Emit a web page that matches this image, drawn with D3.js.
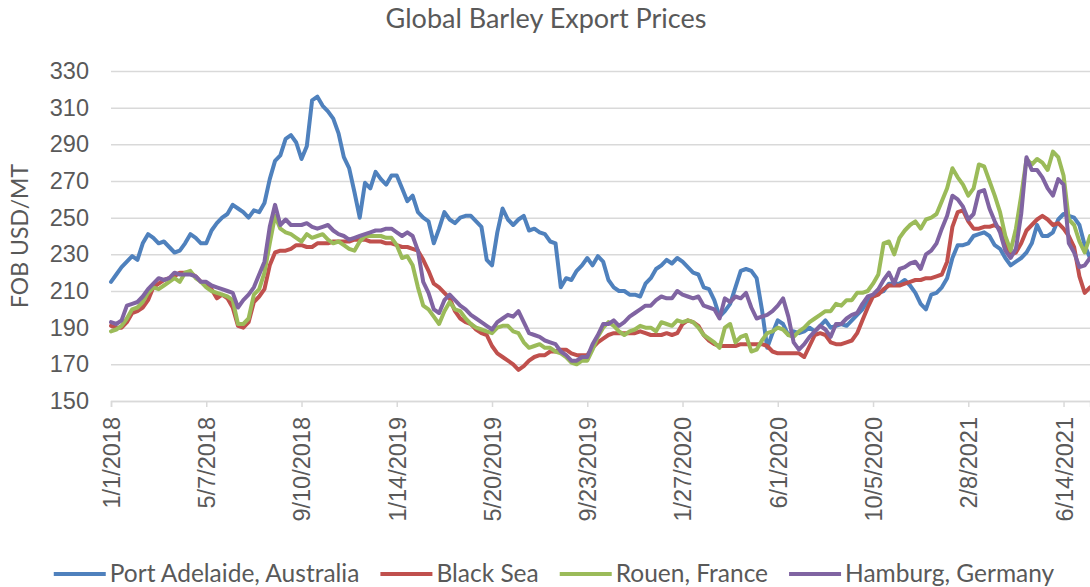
<!DOCTYPE html>
<html>
<head>
<meta charset="utf-8">
<script src="https://cdn.jsdelivr.net/npm/d3@7"></script>
<style>
  body { margin: 0; background: #fff; }
  svg { display: block; font-family: Lato, "Open Sans", sans-serif; }
</style>
</head>
<body>
<script>
// weekly prices, starting Monday 1/1/2018
const startDate = "1/1/2018";

const seriesNames = ["Port Adelaide, Australia", "Black Sea", "Rouen, France", "Hamburg, Germany"];
const seriesColors = ["#4f81bd", "#c0504d", "#9bbb59", "#8064a2"];

const portAdelaide = [
  215, 219, 223, 226, 229, 227, 236, 241, 239, 236,
  237, 234, 231, 232, 236, 241, 239, 236, 236, 243,
  247, 250, 252, 257, 255, 253, 250, 254, 253, 258,
  271, 281, 284, 293, 295, 291, 282, 289, 314, 316,
  311, 308, 304, 296, 283, 277, 264, 250, 269, 266,
  275, 271, 268, 273, 273, 266, 259, 262, 253, 250,
  248, 236, 244, 253, 249, 247, 250, 251, 251, 248,
  245, 227, 224, 242, 255, 249, 246, 249, 251, 243,
  244, 242, 241, 237, 236, 212, 217, 216, 221, 224,
  228, 224, 229, 226, 216, 212, 210, 210, 208, 208,
  207, 214, 217, 222, 224, 227, 225, 228, 226, 223,
  220, 219, 212, 211, 205, 196, 199, 203, 212, 221,
  222, 221, 217, 200, 179, 187, 194, 192, 186, 188,
  187, 188, 190, 188, 191, 194, 190, 191, 192, 191,
  194, 197, 200, 205, 207, 209, 210, 214, 214, 214,
  216, 213, 209, 203, 200, 208, 209, 212, 217, 228,
  235, 235, 236, 240, 241, 242, 240, 235, 233, 228,
  224, 226, 228, 231, 236, 246, 240, 240, 242, 249,
  252, 251, 250, 246, 235, 228
];

const blackSea = [
  191, 190, 190, 193, 198, 199, 201, 205, 212, 214,
  216, 217, 218, 220, 220, 220, 218, 215, 214, 211,
  206, 208, 206, 201, 191, 190, 193, 204, 207, 211,
  224, 231, 232, 232, 233, 235, 235, 234, 234, 236,
  236, 236, 237, 237, 237, 237, 238, 238, 238, 237,
  237, 237, 236, 236, 235, 234, 234, 233, 232, 227,
  221, 214, 212, 209, 206, 199, 195, 193, 192, 189,
  187, 186, 180, 176, 174, 172, 170, 167, 169, 172,
  174, 175, 175, 177, 177, 178, 178, 176, 175, 175,
  175, 179, 182, 184, 186, 187, 187, 187, 187, 187,
  188, 187, 186, 186, 186, 187, 186, 187, 192, 194,
  193, 191, 186, 183, 181, 180, 180, 180, 180, 181,
  181, 181, 181, 181, 180, 177, 176, 176, 176, 176,
  176, 174, 180, 186, 187, 186, 182, 181, 181, 182,
  183, 187, 194, 201, 207, 208, 211, 213, 213, 213,
  214, 215, 216, 216, 217, 217, 218, 219, 226, 245,
  253, 254, 248, 244, 244, 245, 245, 246, 244, 235,
  230, 231, 236, 243, 246, 249, 251, 249, 246, 247,
  244, 240, 234, 218, 209, 212
];

const rouen = [
  188, 189, 191, 195, 200, 201, 204, 209, 212, 211,
  213, 215, 217, 215, 220, 221, 217, 215, 212, 210,
  209, 208, 207, 205, 192, 192, 195, 208, 211, 220,
  236, 251, 244, 242, 241, 239, 237, 241, 239, 240,
  241, 238, 236, 237, 235, 233, 232, 237, 240, 240,
  240, 240, 239, 239, 235, 228, 229, 224, 212, 202,
  200, 196, 192, 199, 204, 200, 199, 195, 192, 190,
  189, 188, 187, 190, 191, 191, 188, 187, 182, 179,
  180, 181, 179, 179, 177, 176, 174, 171, 170, 172,
  172, 178, 185, 190, 193, 191, 188, 186, 188, 189,
  191, 190, 190, 188, 193, 192, 191, 194, 193, 194,
  193, 190, 186, 184, 182, 179, 190, 192, 182, 185,
  186, 177, 178, 183, 187, 188, 190, 189, 186, 185,
  188, 190, 193, 195, 197, 199, 199, 203, 202, 205,
  205, 209, 209, 210, 214, 219, 236, 237, 230, 239,
  243, 246, 248, 244, 249, 250, 252, 259, 266, 277,
  272, 268, 262, 266, 279, 278, 270, 262, 253, 240,
  232, 244, 262, 282, 279, 282, 280, 276, 286, 283,
  273, 249, 246, 237, 231, 240
];

const hamburg = [
  193, 192, 194, 202, 203, 204, 207, 211, 214, 217,
  216, 217, 220, 219, 219, 219, 218, 215, 215, 213,
  212, 211, 210, 209, 201, 205, 208, 212, 219, 226,
  245, 257, 246, 249, 246, 246, 246, 247, 245, 244,
  245, 246, 243, 241, 240, 238, 239, 240, 241, 242,
  243, 243, 244, 244, 242, 240, 242, 240, 232, 215,
  209, 200, 198, 205, 208, 205, 202, 200, 197, 195,
  193, 191, 189, 193, 195, 197, 196, 199, 193, 187,
  186, 185, 183, 182, 181, 177, 175, 172, 172, 174,
  174, 181, 186, 192, 192, 194, 191, 193, 196, 198,
  200, 202, 202, 205, 207, 206, 206, 210, 208, 207,
  206, 207, 202, 201, 200, 195, 206, 204, 207, 206,
  209, 201, 195, 196, 197, 199, 202, 206, 196, 182,
  178, 181, 185, 188, 191, 189, 185, 192, 192, 195,
  197, 198, 203, 207, 208, 211, 216, 220, 214, 222,
  223, 225, 226, 222, 230, 232, 236, 244, 251, 262,
  260, 256, 249, 252, 264, 265, 255, 248, 242, 232,
  228, 233, 252, 283, 276, 276, 272, 266, 262, 271,
  268, 236, 231, 223, 224, 228
];

const xTickLabels = ["1/1/2018", "5/7/2018", "9/10/2018", "1/14/2019", "5/20/2019", "9/23/2019",
  "1/27/2020", "6/1/2020", "10/5/2020", "2/8/2021", "6/14/2021"];
const yTicks = [150, 170, 190, 210, 230, 250, 270, 290, 310, 330];

const width = 1090, height = 587;
const plotLeft = 111, plotRight = 1090, plotTop = 71, plotBottom = 401;
const textColor = "#595959", gridColor = "#d9d9d9";

const parse = d3.timeParse("%m/%d/%Y");
const fmt = d3.timeFormat("%-m/%-d/%Y");
const t0 = parse(startDate);
const weekDate = i => d3.timeDay.offset(t0, i * 7);

const allSeries = [portAdelaide, blackSea, rouen, hamburg].map((vals, k) => ({
  name: seriesNames[k],
  color: seriesColors[k],
  values: vals.map((v, i) => ({ date: weekDate(i), value: v }))
}));

const x = d3.scaleTime()
  .domain([t0, weekDate(portAdelaide.length - 1)])
  .range([plotLeft, plotRight]);

const y = d3.scaleLinear()
  .domain([150, 330])
  .range([plotBottom, plotTop]);

const svg = d3.select("body").append("svg")
  .attr("width", width)
  .attr("height", height);

// gridlines + y labels
const yAxis = svg.append("g")
  .attr("transform", `translate(${plotLeft},0)`)
  .call(d3.axisLeft(y).tickValues(yTicks).tickSize(-(plotRight - plotLeft)).tickPadding(22));
yAxis.select(".domain").remove();
yAxis.selectAll(".tick line").attr("stroke", gridColor).attr("stroke-width", 1.5);
yAxis.selectAll(".tick text")
  .attr("fill", textColor)
  .style("font-size", "23.5px");

// x axis
const xAxis = svg.append("g")
  .attr("transform", `translate(0,${plotBottom})`)
  .call(d3.axisBottom(x).tickValues(xTickLabels.map(parse)).tickSize(6).tickFormat(fmt));
xAxis.select(".domain").attr("stroke", gridColor).attr("stroke-width", 1.5);
xAxis.selectAll(".tick line").attr("stroke", gridColor).attr("stroke-width", 1.5);
xAxis.selectAll(".tick text")
  .attr("fill", textColor)
  .style("font-size", "23.5px")
  .attr("transform", "rotate(-90)")
  .attr("text-anchor", "end")
  .attr("x", -16)
  .attr("y", 0)
  .attr("dy", "0.36em");

// lines
const line = d3.line()
  .x(d => x(d.date))
  .y(d => y(d.value));

svg.append("g")
  .selectAll("path")
  .data(allSeries)
  .join("path")
  .attr("fill", "none")
  .attr("stroke", d => d.color)
  .attr("stroke-width", 4)
  .attr("stroke-linejoin", "round")
  .attr("stroke-linecap", "round")
  .attr("d", d => line(d.values));

// title
svg.append("text")
  .attr("x", 546)
  .attr("y", 28)
  .attr("text-anchor", "middle")
  .attr("fill", textColor)
  .style("font-size", "27px")
  .text("Global Barley Export Prices");

// y axis title
svg.append("text")
  .attr("transform", `translate(28,${(plotTop + plotBottom) / 2}) rotate(-90)`)
  .attr("text-anchor", "middle")
  .attr("fill", textColor)
  .style("font-size", "23px")
  .text("FOB USD/MT");

// legend
const legend = svg.append("g");
let lx = 0;
allSeries.forEach(s => {
  const g = legend.append("g").attr("transform", `translate(${lx},0)`);
  g.append("line")
    .attr("x1", 0).attr("x2", 52)
    .attr("y1", 0).attr("y2", 0)
    .attr("stroke", s.color)
    .attr("stroke-width", 4);
  const t = g.append("text")
    .attr("x", 56)
    .attr("y", 8)
    .attr("fill", textColor)
    .style("font-size", "24.5px")
    .text(s.name);
  lx += 56 + t.node().getComputedTextLength() + 21;
});
const legendW = lx - 21;
legend.attr("transform", `translate(${554 - legendW / 2},574)`);
</script>
</body>
</html>
